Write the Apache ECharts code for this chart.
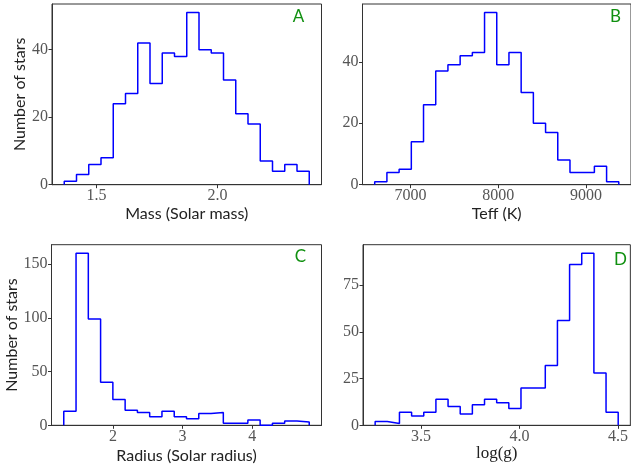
<!DOCTYPE html>
<html><head><meta charset="utf-8">
<script src="https://cdn.jsdelivr.net/npm/echarts@6/dist/echarts.min.js"></script>
<style>html,body{margin:0;padding:0;background:#fff}#c{width:631px;height:469px}</style>
</head><body><div id="c"></div>
<script>
// ---- data (20 bins per histogram) ----
const massCounts   = [1,3,6,8,24,27,42,30,39,38,51,40,39,31,21,18,7,4,6,4];
const massRange    = [1.3665, 2.380];
const teffCounts   = [1,4,5,14,26,37,39,42,43,56,39,43,30,20,17,8,4,4,6,1];
const teffRange    = [6592, 9374];
const radiusCounts = [13,160,99,40,24,14,12,8,13,8,6,11,12,2,2,5,0,2,4,3];
const radiusRange  = [1.291, 4.821];
const loggCounts   = [2,1,7,5,7,14,10,6,11,14,12,9,20,20,32,56,86,92,28,7];
const loggRange    = [3.2665, 4.501];

const massXTicks   = [1.5, 2.0];
const teffXTicks   = [7000, 8000, 9000];
const radiusXTicks = [2, 3, 4];
const loggXTicks   = [3.5, 4.0, 4.5];
const massYTicks   = [0, 20, 40];
const teffYTicks   = [0, 20, 40];
const radiusYTicks = [0, 50, 100, 150];
const loggYTicks   = [0, 25, 50, 75];

const xNames = ['Mass (Solar mass)', 'Teff (K)', 'Radius (Solar radius)', 'log(g)'];
const panelLetters = ['A', 'B', 'C', 'D'];

// ---- build step outlines (matplotlib histtype="step") ----
function stepPoints(counts, range) {
  const n = counts.length, w = (range[1] - range[0]) / n;
  const pts = [[range[0], 0]];
  for (let i = 0; i < n; i++) {
    const a = range[0] + i * w, b = range[0] + (i + 1) * w;
    pts.push([a, counts[i]]); pts.push([b, counts[i]]);
  }
  pts.push([range[1], 0]);
  return pts;
}
const panels = [
  {counts: massCounts, range: massRange, xt: massXTicks, yt: massYTicks, fmt: v => v.toFixed(1)},
  {counts: teffCounts, range: teffRange, xt: teffXTicks, yt: teffYTicks, fmt: v => String(v)},
  {counts: radiusCounts, range: radiusRange, xt: radiusXTicks, yt: radiusYTicks, fmt: v => String(v)},
  {counts: loggCounts, range: loggRange, xt: loggXTicks, yt: loggYTicks, fmt: v => v.toFixed(1)}
];

const grids = [
  {left: 52,  top: 4,     width: 269.5, height: 180.7},
  {left: 362.5, top: 4,   width: 270.5, height: 180.7},
  {left: 51.5, top: 244.7, width: 270, height: 180.6},
  {left: 363, top: 244.7, width: 270, height: 180.6}
];
const xNameGaps = [21, 21, 23, 18];
const yNameGaps = [24, 0, 32, 0];
const letterPos = [[298.5, 17], [615.5, 17], [300.5, 257], [620.5, 260]];

const serif = '"Liberation Serif", "DejaVu Serif", serif';
const sans = 'Lato, "Noto Sans", sans-serif';

const option = {
  animation: false,
  backgroundColor: '#fff',
  grid: grids.map(g => Object.assign({show: true, borderColor: '#333', borderWidth: 1, containLabel: false}, g)),
  xAxis: panels.map((p, i) => {
    const span = p.range[1] - p.range[0];
    return {
      type: 'value', gridIndex: i,
      min: p.range[0] - 0.05 * span, max: p.range[1] + 0.05 * span,
      axisLine: {show: true, onZero: false, lineStyle: {color: '#333', width: 1}},
      axisTick: {show: true, length: 3.5, lineStyle: {color: '#333'}, customValues: p.xt},
      axisLabel: {show: true, customValues: p.xt, formatter: p.fmt, margin: 3,
                  fontFamily: serif, fontSize: 16, color: '#555'},
      splitLine: {show: false},
      name: xNames[i], nameLocation: 'middle', nameGap: xNameGaps[i],
      nameTextStyle: {fontFamily: i === 3 ? serif : sans, fontSize: i === 3 ? 17 : 16, color: '#222'}
    };
  }),
  yAxis: panels.map((p, i) => {
    const mx = Math.max.apply(null, p.counts);
    return {
      type: 'value', gridIndex: i, min: 0, max: mx * 1.05,
      axisLine: {show: true, lineStyle: {color: '#333', width: 1}},
      axisTick: {show: true, length: 3.5, lineStyle: {color: '#333'}, customValues: p.yt},
      axisLabel: {show: true, customValues: p.yt, margin: 4,
                  fontFamily: serif, fontSize: 16, color: '#555'},
      splitLine: {show: false},
      name: (i === 0 || i === 2) ? 'Number of stars' : '',
      nameLocation: 'middle', nameRotate: 90, nameGap: yNameGaps[i],
      nameTextStyle: {fontFamily: sans, fontSize: 16, color: '#222'}
    };
  }),
  series: panels.map((p, i) => ({
    type: 'line', xAxisIndex: i, yAxisIndex: i,
    data: stepPoints(p.counts, p.range),
    symbol: 'none', showSymbol: false,
    lineStyle: {color: '#0000ff', width: 1.5},
    z: 1
  })),
  graphic: panelLetters.map((t, i) => ({
    type: 'text', x: letterPos[i][0], y: letterPos[i][1], z: 10,
    style: {text: t, fill: '#109010', font: '17px ' + sans, textAlign: 'center', textVerticalAlign: 'middle'}
  }))
};
const chart = echarts.init(document.getElementById('c'), null, {renderer: 'canvas'});
chart.setOption(option);
</script>
</body></html>
